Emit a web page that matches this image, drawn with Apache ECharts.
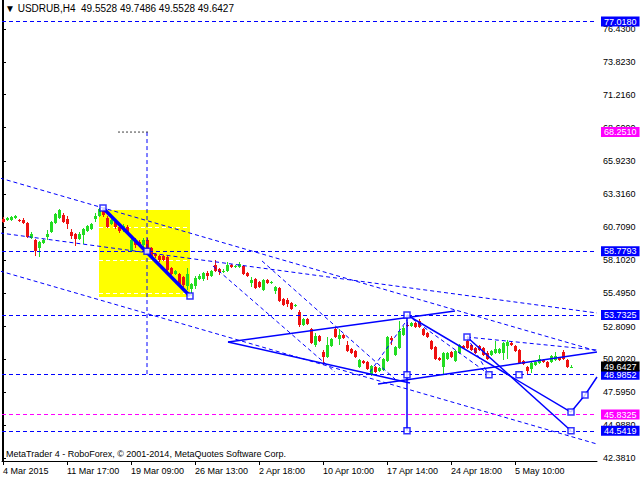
<!DOCTYPE html>
<html><head><meta charset="utf-8">
<script src="https://cdn.jsdelivr.net/npm/echarts@6/dist/echarts.min.js"></script>
<style>html,body{margin:0;padding:0;background:#fff}#c{width:640px;height:480px}</style>
</head><body><div id="c"></div>
<script>
const opens=[61.35,61.27,61.27,61.43,61.27,61.27,61.03,59.84,59.68,59.05,
59.44,59.92,60.32,61.03,61.43,61.67,61.35,60.32,60.16,59.76,
60.08,60.40,60.56,61.35,61.59,61.99,61.43,60.95,61.11,60.71,
60.48,60.71,58.81,59.68,59.52,59.29,59.68,59.05,58.57,58.41,
58.41,58.33,57.46,56.98,56.98,56.74,56.03,55.79,56.03,56.58,
56.58,57.06,56.82,57.70,57.38,57.18,57.22,57.70,57.54,57.54,
57.62,57.06,56.27,56.58,56.35,55.71,56.51,56.27,55.63,55.87,
55.00,54.92,54.68,54.44,53.93,52.94,53.41,52.62,51.35,52.07,
50.79,50.40,51.27,52.62,51.83,52.14,51.35,51.03,50.87,49.60,
50.08,50.00,48.97,49.60,49.29,49.37,50.08,51.90,50.56,51.11,
52.14,52.94,52.86,53.09,53.25,52.62,52.31,51.67,51.19,50.32,
49.60,50.24,50.79,50.08,50.71,51.27,51.67,51.35,51.11,51.27,
51.11,50.71,50.56,50.71,50.71,50.71,51.27,51.51,51.27,50.95,
50.08,49.60,49.44,49.76,49.92,50.16,50.00,50.00,50.16,50.32,
50.79,50.16,49.5528];
const closes=[61.11,61.43,61.51,61.59,61.19,61.03,59.92,60.16,58.81,59.52,
59.68,60.16,61.11,61.75,62.07,61.11,60.95,60.00,59.76,60.16,
60.56,60.79,60.95,61.59,62.15,61.67,60.71,61.27,60.71,60.40,
60.79,60.24,59.68,59.29,59.36,59.68,58.81,58.41,58.41,58.10,
58.10,57.30,56.98,57.22,56.19,56.11,56.98,56.19,56.66,56.82,
57.06,56.82,57.22,57.22,57.14,57.26,57.70,57.54,57.62,57.78,
56.98,56.82,56.51,55.87,55.95,56.51,56.27,56.35,55.95,54.84,
54.52,54.60,54.21,54.52,52.94,53.41,53.02,51.51,52.07,51.67,
50.40,51.35,51.83,51.98,52.14,51.90,50.87,50.71,50.40,50.16,
49.92,49.44,49.68,49.21,49.52,50.24,51.98,51.75,51.19,52.46,
52.70,52.86,53.09,52.78,52.78,52.14,51.98,51.03,50.24,50.16,
50.71,50.71,50.40,50.87,51.35,51.11,51.11,50.95,50.71,50.95,
50.56,50.24,50.87,51.03,51.03,51.51,51.59,51.35,50.87,49.92,
49.84,49.29,49.92,50.00,50.24,50.00,49.60,50.48,50.48,50.16,
50.24,49.60,49.6427];
const lows=[61.03,61.19,61.19,61.35,61.15,60.95,59.84,59.76,58.41,58.33,
59.36,59.68,60.24,60.95,61.35,61.03,60.56,59.76,59.21,59.68,
59.36,60.32,60.48,61.11,61.51,61.51,60.64,60.87,60.56,60.24,
60.32,60.16,58.73,59.05,59.21,59.13,58.73,58.33,58.25,57.94,
58.02,57.22,56.90,56.90,56.11,55.95,55.71,55.24,55.79,56.51,
56.43,56.51,56.74,57.14,56.90,57.06,57.14,57.46,57.46,57.46,
56.90,56.74,55.95,55.79,55.87,55.63,56.19,56.19,55.40,54.76,
54.44,54.36,54.13,54.36,52.78,52.86,52.94,51.43,51.19,51.59,
49.76,50.32,51.19,51.90,51.35,51.83,50.79,50.64,50.32,49.52,
49.84,49.37,48.89,49.13,49.21,49.29,50.00,51.35,50.48,51.03,
52.07,52.78,52.78,52.70,52.70,52.07,51.90,50.95,50.16,50.08,
48.97,50.16,50.32,50.00,50.64,51.03,51.03,50.87,50.64,50.87,
50.48,50.16,50.48,50.64,50.64,50.16,50.24,51.27,50.79,49.84,
49.76,49.05,49.13,49.68,49.84,49.92,49.52,49.92,50.08,50.08,
50.16,49.52,49.5528];
const highs=[61.51,61.51,61.59,61.67,61.35,61.43,61.11,60.32,59.76,59.60,
59.76,60.48,61.19,61.83,62.15,61.83,61.59,60.56,60.24,60.32,
60.64,60.87,61.03,61.83,62.23,62.15,61.59,61.35,61.27,60.87,
60.95,60.87,59.84,59.84,59.68,59.84,59.84,59.13,58.65,58.49,
58.49,58.41,57.54,57.30,57.06,56.82,57.46,56.27,56.82,56.98,
57.14,57.22,57.30,58.10,57.46,57.38,57.94,57.78,57.70,57.94,
57.70,57.14,56.74,56.66,56.43,56.58,56.58,56.43,56.03,55.95,
55.08,55.08,54.76,54.60,54.13,53.49,53.49,52.70,52.31,52.14,
50.95,51.98,51.90,52.78,52.62,52.22,51.67,51.11,50.95,50.24,
50.16,50.08,49.76,49.68,49.60,50.32,52.07,52.07,51.27,53.25,
52.86,53.17,53.17,53.17,53.41,52.70,52.38,51.75,51.27,50.40,
50.79,50.79,50.87,50.95,51.43,51.35,52.07,51.43,51.19,51.35,
51.19,50.87,50.95,51.67,51.11,51.59,51.75,51.59,51.35,51.03,
50.16,49.68,50.00,50.08,50.56,50.24,50.08,50.56,50.79,50.40,
50.95,50.24,49.7486];

const priceTicks=[76.43,73.823,71.216,68.609,65.923,63.316,60.709,58.102,55.495,52.809,50.202,47.595,44.988,42.381];
const dateTicks=[0,16,32,48,64,80,96,112,128];
const dateLabels=['4 Mar 2015','11 Mar 17:00','19 Mar 09:00','26 Mar 13:00','2 Apr 18:00','10 Apr 10:00','17 Apr 14:00','24 Apr 18:00','5 May 10:00'];

// horizontal line objects: price, colour, whether the line itself is drawn
const hLevels=[77.0180,68.2510,58.7793,53.7325,48.9852,45.8325,44.5419];
const hColors=['#0000ff','#ff00ff','#0000ff','#0000ff','#0000ff','#ff00ff','#0000ff'];
const hVisible=[true,false,true,true,true,true,true];
const bidPrice=49.6427;

// yellow rectangle [i1,i2,p1,p2]
const rectBox=[24,46.75,62.06,55.16];

// solid trend lines
const solidLines=[
 [[56.25,51.59],[113,54.05]],
 [[56.25,51.59],[101.75,48.33]],
 [[93.75,48.25],[148.5,50.79]],
 [[101,53.73],[101,44.54]],
 [[101,53.73],[142,46.03]],
 [[142,46.03],[145.5,47.38],[148.5,48.81]],
 [[116,51.98],[142,44.54]]
];
const thickLine=[[25,62.22],[46.75,55.24]];
// dashed trend lines
const dashLines=[
 [[-0.75,64.60],[148.5,50.87]],
 [[-0.75,60.24],[148.5,53.89]],
 [[-0.75,57.22],[148.5,43.49]],
 [[52.5,57.62],[83,49.21]],
 [[64.75,58.02],[98,48.65]],
 [[91.75,49.21],[101,53.33]],
 [[101,53.73],[121.75,48.97]],
 [[116,51.98],[148.5,50.95]],
 [[116,51.98],[121.5,48.97]],
 [[36,68.25],[36,48.985]]
];
const greyDash=[[28.75,68.25],[36.75,68.25]];
const anchors=[[25,62.22],[46.75,55.24],[36,58.78],[101,53.73],[101,48.985],[101,44.54],[116,51.98],[121.5,48.985],[129,48.985],[142,46.03],[145.5,47.38],[142,44.54]];

const GREEN='#22dd22', RED='#ee1111', BLUE='#0000ff';
const FONT='Liberation Sans';
const CLEAR='rgba(0,0,0,0)';
const candleData=opens.map((o,i)=>[i,o,closes[i],lows[i],highs[i]]);

const series=[];
series.push({type:'custom',z:1,silent:true,data:[rectBox],
 renderItem(params,api){
  const a=api.coord([api.value(0),api.value(2)]), b=api.coord([api.value(1),api.value(3)]);
  const ch=[{type:'rect',shape:{x:Math.round(a[0]),y:Math.round(a[1]),width:Math.round(b[0]-a[0]),height:Math.round(b[1]-a[1])},style:{fill:'#ffff00'}}];
  priceTicks.forEach(t=>{const p=api.coord([0,t]);const y=Math.round(p[1])+0.5;
   if(y>a[1]&&y<b[1]) ch.push({type:'line',shape:{x1:a[0],y1:y,x2:b[0],y2:y},style:{stroke:'#ffffff',lineWidth:1,lineDash:[4,3]}});});
  return {type:'group',children:ch};
 }});
series.push({type:'custom',z:3,silent:true,data:candleData,
 renderItem(params,api){
  const i=api.value(0),o=api.value(1),c=api.value(2),l=api.value(3),h=api.value(4);
  const po=api.coord([i,o]),pc=api.coord([i,c]),pl=api.coord([i,l]),ph=api.coord([i,h]);
  const x=Math.round(po[0]);const col=c>=o?GREEN:RED;
  let top=Math.round(Math.min(po[1],pc[1])),bot=Math.round(Math.max(po[1],pc[1]));
  if(bot-top<1)bot=top+1;
  const yh=Math.round(ph[1]),yl=Math.max(Math.round(pl[1]),bot);
  return {type:'group',children:[
   {type:'rect',shape:{x:x,y:yh,width:1,height:Math.max(1,yl-yh)},style:{fill:col}},
   {type:'rect',shape:{x:x-1,y:top,width:3,height:bot-top},style:{fill:col}}]};
 },
 markLine:{silent:true,symbol:['none','none'],animation:false,
  data:hLevels.map((p,k)=>({yAxis:p,lineStyle:{color:hVisible[k]?hColors[k]:CLEAR,width:1,type:[4,3]},
    label:{show:true,position:'end',distance:4,formatter:p.toFixed(4),color:'#fff',backgroundColor:hColors[k],padding:[1,3,0,3],fontSize:9,fontFamily:FONT}}))
   .concat([{yAxis:bidPrice,lineStyle:{color:CLEAR},label:{show:true,position:'end',distance:4,formatter:bidPrice.toFixed(4),color:'#fff',backgroundColor:'#000',padding:[1,3,0,3],fontSize:9,fontFamily:FONT}}])
 }});
dashLines.forEach(seg=>series.push({type:'line',z:4,silent:true,data:seg,showSymbol:false,animation:false,lineStyle:{color:BLUE,width:1,type:[4,3]}}));
series.push({type:'line',z:4,silent:true,data:greyDash,showSymbol:false,animation:false,lineStyle:{color:'#404040',width:1,type:[2,2]}});
solidLines.forEach(seg=>series.push({type:'line',z:5,silent:true,data:seg,showSymbol:false,animation:false,lineStyle:{color:BLUE,width:1.5}}));
series.push({type:'line',z:6,silent:true,data:thickLine,showSymbol:false,animation:false,lineStyle:{color:BLUE,width:3.5}});
series.push({type:'scatter',z:7,silent:true,data:anchors,symbol:'rect',symbolSize:6,animation:false,itemStyle:{color:'#fff',borderColor:BLUE,borderWidth:1.5}});

const chart=echarts.init(document.getElementById('c'),null,{renderer:'svg'});
chart.setOption({
 animation:false,backgroundColor:'#fff',
 title:[{text:'▼ USDRUB,H4  49.5528 49.7486 49.5528 49.6427',left:5,top:3,padding:0,textStyle:{fontSize:10,fontWeight:'normal',color:'#000',fontFamily:FONT}},
        {text:'MetaTrader 4 - RoboForex, © 2001-2014, MetaQuotes Software Corp.',left:6,top:449,padding:0,textStyle:{fontSize:9,fontWeight:'normal',color:'#000',fontFamily:FONT}}],
 grid:{left:2,right:43,top:0,bottom:19},
 xAxis:{type:'value',min:-0.25,max:148.5,
  axisLine:{show:true,onZero:false,lineStyle:{color:'#000',width:1}},
  axisTick:{show:true,customValues:dateTicks,length:4,lineStyle:{color:'#000'}},
  axisLabel:{customValues:dateTicks,formatter:v=>dateLabels[dateTicks.indexOf(v)]||'',align:'left',margin:5,fontSize:9,color:'#000',fontFamily:FONT},
  splitLine:{show:false}},
 yAxis:[{type:'value',position:'right',min:42.143,max:78.73,
  axisLine:{show:true,lineStyle:{color:'#000',width:1}},
  axisTick:{show:true,customValues:priceTicks,length:3,lineStyle:{color:'#000'}},
  axisLabel:{customValues:priceTicks,formatter:v=>v.toFixed(4),margin:6,fontSize:9,color:'#000',fontFamily:FONT},
  splitLine:{show:false}},
  {type:'value',position:'left',min:42.143,max:78.73,axisLine:{show:true,lineStyle:{color:'#000'}},axisTick:{show:false},axisLabel:{show:false},splitLine:{show:false}}],
 series:series
});
</script></body></html>
